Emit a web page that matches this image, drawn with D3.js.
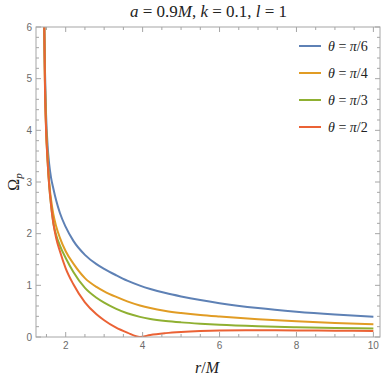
<!DOCTYPE html>
<html>
<head>
<meta charset="utf-8">
<script src="https://cdn.jsdelivr.net/npm/d3@7"></script>
<style>
  html, body { margin: 0; padding: 0; background: #fff; }
  svg { display: block; }
</style>
</head>
<body>
<svg id="chart" width="382" height="381"></svg>
<script>
// ---- data ----
const rValues = [1.443, 1.46, 1.49, 1.53, 1.57, 1.62, 1.68, 1.75, 1.85, 2.0, 2.2, 2.5, 2.8, 3.0, 3.3, 3.6, 3.93, 4.2, 4.6, 5.0, 5.5, 6.0, 7.0, 8.0, 9.0, 10.0];
const omegaPi6 = [6.0, 5.2, 4.3, 3.7, 3.35, 3.08, 2.87, 2.65, 2.40, 2.13, 1.86, 1.59, 1.41, 1.32, 1.20, 1.09, 0.995, 0.93, 0.85, 0.785, 0.715, 0.655, 0.56, 0.49, 0.435, 0.39];
const omegaPi4 = [6.0, 5.0, 4.1, 3.5, 3.0, 2.66, 2.37, 2.15, 1.92, 1.66, 1.42, 1.14, 0.97, 0.885, 0.78, 0.69, 0.61, 0.56, 0.505, 0.465, 0.425, 0.395, 0.345, 0.305, 0.272, 0.245];
const omegaPi3 = [6.0, 4.95, 4.05, 3.4, 2.95, 2.55, 2.2, 1.98, 1.77, 1.53, 1.26, 0.95, 0.76, 0.665, 0.55, 0.46, 0.39, 0.35, 0.31, 0.283, 0.258, 0.238, 0.21, 0.19, 0.176, 0.165];
const omegaPi2 = [6.0, 4.9, 4.0, 3.4, 2.95, 2.55, 2.2, 1.92, 1.66, 1.33, 1.02, 0.67, 0.44, 0.325, 0.185, 0.085, 0.0, 0.04, 0.075, 0.097, 0.115, 0.125, 0.13, 0.128, 0.123, 0.117];
const seriesNames = ["\u03C0/6", "\u03C0/4", "\u03C0/3", "\u03C0/2"];
const seriesColors = ["#5E81B5", "#E19C24", "#8FB032", "#EB6235"];
const xMajorTicks = [2, 4, 6, 8, 10];
const yMajorTicks = [0, 1, 2, 3, 4, 5, 6];

const seriesValues = [omegaPi6, omegaPi4, omegaPi3, omegaPi2];

// ---- layout ----
const svg = d3.select("#chart");
const pL = 36, pR = 380, pT = 27, pB = 337;
const x = d3.scaleLinear().domain([1.228, 10.172]).range([pL, pR]);
const y = d3.scaleLinear().domain([0, 6]).range([pB, pT]);

const frameColor = "#a6a6a6";
const labelColor = "#6b6b6b";

svg.append("defs").append("clipPath").attr("id", "clip")
  .append("rect").attr("x", pL).attr("y", pT)
  .attr("width", pR - pL).attr("height", pB - pT);

// curves
const line = d3.line()
  .x(d => x(d[0]))
  .y(d => y(d[1]))
  .curve(d3.curveMonotoneX);

const g = svg.append("g").attr("clip-path", "url(#clip)");
seriesValues.forEach((vals, i) => {
  const pts = rValues.map((r, j) => [r, vals[j]]);
  g.append("path")
    .datum(pts)
    .attr("d", line)
    .attr("fill", "none")
    .attr("stroke", seriesColors[i])
    .attr("stroke-width", 2)
    .attr("stroke-linejoin", "round");
});

// frame
svg.append("rect")
  .attr("x", pL).attr("y", pT)
  .attr("width", pR - pL).attr("height", pB - pT)
  .attr("fill", "none").attr("stroke", frameColor).attr("stroke-width", 1);

// ticks
const xMinor = d3.range(1.5, 10.01, 0.5).filter(v => !xMajorTicks.includes(v));
const yMinor = d3.range(0.2, 6, 0.2).filter(v => Math.abs(v - Math.round(v)) > 1e-6);
const tickG = svg.append("g").attr("stroke", frameColor).attr("stroke-width", 1);
function xTick(v, len) {
  tickG.append("line").attr("x1", x(v)).attr("x2", x(v)).attr("y1", pB).attr("y2", pB - len);
  tickG.append("line").attr("x1", x(v)).attr("x2", x(v)).attr("y1", pT).attr("y2", pT + len);
}
function yTick(v, len) {
  tickG.append("line").attr("y1", y(v)).attr("y2", y(v)).attr("x1", pL).attr("x2", pL + len);
  tickG.append("line").attr("y1", y(v)).attr("y2", y(v)).attr("x1", pR).attr("x2", pR - len);
}
xMajorTicks.forEach(v => xTick(v, 5));
xMinor.forEach(v => xTick(v, 3));
yMajorTicks.forEach(v => yTick(v, 5));
yMinor.forEach(v => yTick(v, 3));

// tick labels
const axisLabels = svg.append("g");
xMajorTicks.forEach(v => {
  axisLabels.append("text")
    .attr("x", x(v)).attr("y", pB + 12)
    .attr("text-anchor", "middle")
    .attr("font-family", "Liberation Sans, Arial, sans-serif")
    .attr("font-size", 10).attr("fill", labelColor)
    .text(v);
});
yMajorTicks.forEach(v => {
  axisLabels.append("text")
    .attr("x", pL - 4).attr("y", y(v) + 3.5)
    .attr("text-anchor", "end")
    .attr("font-family", "Liberation Sans, Arial, sans-serif")
    .attr("font-size", 10).attr("fill", labelColor)
    .text(v);
});

const serif = "Liberation Serif, DejaVu Serif, serif";

// title
const title = svg.append("text")
  .attr("x", 208.5).attr("y", 17)
  .attr("text-anchor", "middle")
  .attr("font-family", serif).attr("font-size", 17).attr("fill", "#222");
title.append("tspan").attr("font-style", "italic").text("a");
title.append("tspan").text(" = 0.9");
title.append("tspan").attr("font-style", "italic").text("M");
title.append("tspan").text(", ");
title.append("tspan").attr("font-style", "italic").text("k");
title.append("tspan").text(" = 0.1, ");
title.append("tspan").attr("font-style", "italic").text("l");
title.append("tspan").text(" = 1");

// x label
const xl = svg.append("text")
  .attr("x", 207).attr("y", 373)
  .attr("text-anchor", "middle")
  .attr("font-family", serif).attr("font-size", 16).attr("fill", "#222");
xl.append("tspan").attr("font-style", "italic").text("r");
xl.append("tspan").text("/");
xl.append("tspan").attr("font-style", "italic").text("M");

// y label
const yl = svg.append("text")
  .attr("transform", `translate(19, ${(pT + pB) / 2}) rotate(-90)`)
  .attr("text-anchor", "middle")
  .attr("font-family", serif).attr("font-size", 16).attr("fill", "#222");
yl.append("tspan").text("\u03A9");
yl.append("tspan").attr("font-style", "italic").attr("font-size", 11).attr("dy", 3).text("p");

// legend
const legendY = [46, 73, 100, 127];
seriesNames.forEach((name, i) => {
  svg.append("line")
    .attr("x1", 299).attr("x2", 321)
    .attr("y1", legendY[i]).attr("y2", legendY[i])
    .attr("stroke", seriesColors[i]).attr("stroke-width", 2);
  const t = svg.append("text")
    .attr("x", 328).attr("y", legendY[i] + 4.5)
    .attr("font-family", serif).attr("font-size", 14).attr("fill", "#222");
  t.append("tspan").attr("font-style", "italic").text("\u03B8");
  t.append("tspan").text(" = ");
  t.append("tspan").attr("font-style", "italic").text("\u03C0");
  t.append("tspan").text(name.slice(1));
});
</script>
</body>
</html>
